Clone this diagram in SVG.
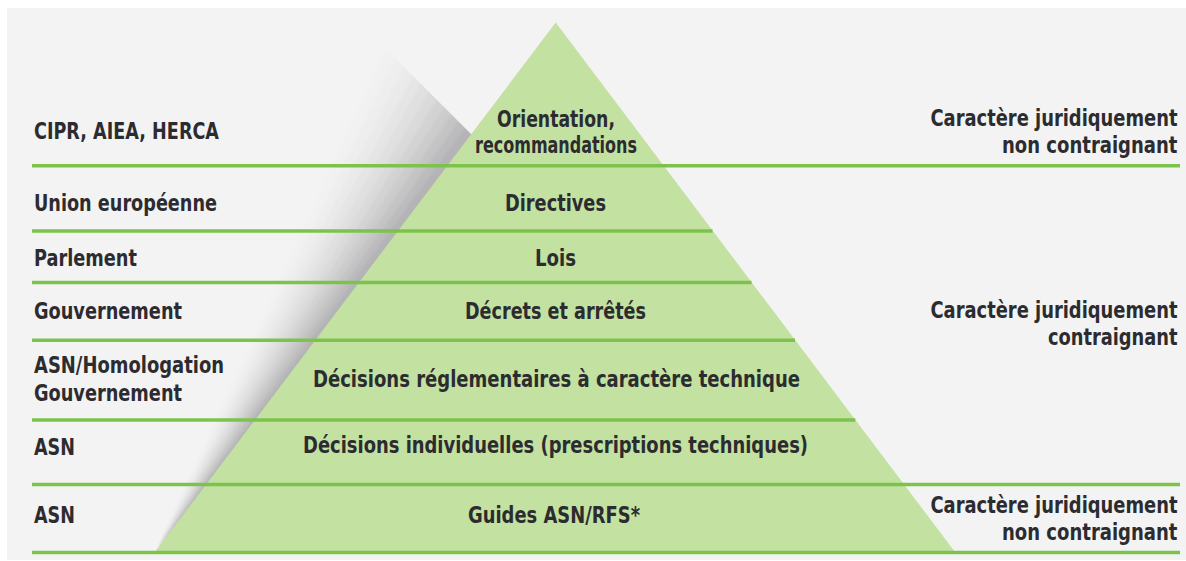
<svg xmlns="http://www.w3.org/2000/svg" width="1186" height="561" viewBox="0 0 1186 561">
<style>
  .t { font-family: "Liberation Sans Narrow", "DejaVu Sans Condensed", "Liberation Sans", sans-serif; font-size: 23px; font-weight: bold; fill: #2c2c30; }
  .c { text-anchor: middle; }
  .r { text-anchor: end; }
  .ln { stroke: #7dc34b; stroke-width: 3.5; fill: none; }
</style>
<defs>
  <clipPath id="shadowClip">
    <polygon points="377,40 155,552 889,552"/>
  </clipPath>
  <filter id="soft" x="-10%" y="-10%" width="120%" height="120%">
    <feGaussianBlur stdDeviation="1.5"/>
  </filter>
</defs>
<rect x="0" y="0" width="1186" height="561" fill="#ffffff"/>
<rect x="7" y="8" width="1179" height="552" fill="#f3f3f3"/>

<g id="shadow" clip-path="url(#shadowClip)">
  <g filter="url(#soft)">
    <polygon points="155,552 370,40 391.3,40" fill="#f3f3f3"/>
    <polygon points="155,552 390.8,40 405.2,40" fill="#f1f1f1"/>
    <polygon points="155,552 404.7,40 419,40" fill="#eeeeee"/>
    <polygon points="155,552 418.5,40 432.8,40" fill="#eaeaea"/>
    <polygon points="155,552 432.3,40 446.6,40" fill="#e5e5e5"/>
    <polygon points="155,552 446.1,40 460.5,40" fill="#e0e0e0"/>
    <polygon points="155,552 460,40 474.3,40" fill="#dadada"/>
    <polygon points="155,552 473.8,40 488.1,40" fill="#d3d3d4"/>
    <polygon points="155,552 487.6,40 501.9,40" fill="#cccccd"/>
    <polygon points="155,552 501.4,40 515.8,40" fill="#c4c4c5"/>
    <polygon points="155,552 515.3,40 529.6,40" fill="#bcbcbe"/>
    <polygon points="155,552 529.1,40 600,40" fill="#b4b4b6"/>
  </g>
</g>

<g id="pyramid">
  <polygon points="555.7,22.5 155,552 955,552" fill="#c3e1a0"/>
</g>

<g id="connectors">
  <line class="ln" x1="32" y1="165.7" x2="1180" y2="165.7"/>
  <line class="ln" x1="32" y1="231" x2="712.5" y2="231"/>
  <line class="ln" x1="32" y1="282.5" x2="751.5" y2="282.5"/>
  <line class="ln" x1="32" y1="340.3" x2="795" y2="340.3"/>
  <line class="ln" x1="32" y1="420" x2="855.3" y2="420"/>
  <line class="ln" x1="32" y1="484.5" x2="1180" y2="484.5"/>
  <line class="ln" x1="32" y1="552.5" x2="1180" y2="552.5"/>
</g>

<g id="row-cipr">
  <text class="t" x="34" y="139.3" textLength="185" lengthAdjust="spacingAndGlyphs">CIPR, AIEA, HERCA</text>
  <text class="t c" x="556" y="126.7" textLength="118" lengthAdjust="spacingAndGlyphs">Orientation,</text>
  <text class="t c" x="556" y="153.3" textLength="162" lengthAdjust="spacingAndGlyphs">recommandations</text>
</g>
<g id="note-top">
  <text class="t r" x="1177.5" y="126" textLength="247" lengthAdjust="spacingAndGlyphs">Caractère juridiquement</text>
  <text class="t r" x="1177.5" y="153.3" textLength="175.5" lengthAdjust="spacingAndGlyphs">non contraignant</text>
</g>
<g id="row-ue">
  <text class="t" x="34" y="210.7" textLength="183" lengthAdjust="spacingAndGlyphs">Union européenne</text>
  <text class="t c" x="555.5" y="210.7" textLength="101" lengthAdjust="spacingAndGlyphs">Directives</text>
</g>
<g id="row-parlement">
  <text class="t" x="34" y="265.7" textLength="103" lengthAdjust="spacingAndGlyphs">Parlement</text>
  <text class="t c" x="555.5" y="265.7" textLength="41" lengthAdjust="spacingAndGlyphs">Lois</text>
</g>
<g id="row-gouvernement">
  <text class="t" x="34" y="319.3" textLength="148" lengthAdjust="spacingAndGlyphs">Gouvernement</text>
  <text class="t c" x="555.5" y="319.3" textLength="181" lengthAdjust="spacingAndGlyphs">Décrets et arrêtés</text>
</g>
<g id="note-mid">
  <text class="t r" x="1177.5" y="318.3" textLength="247" lengthAdjust="spacingAndGlyphs">Caractère juridiquement</text>
  <text class="t r" x="1177.5" y="345" textLength="129.6" lengthAdjust="spacingAndGlyphs">contraignant</text>
</g>
<g id="row-homologation">
  <text class="t" x="34" y="373.3" textLength="190" lengthAdjust="spacingAndGlyphs">ASN/Homologation</text>
  <text class="t" x="34" y="401" textLength="148" lengthAdjust="spacingAndGlyphs">Gouvernement</text>
  <text class="t c" x="556.5" y="387.3" textLength="487" lengthAdjust="spacingAndGlyphs">Décisions réglementaires à caractère technique</text>
</g>
<g id="row-asn1">
  <text class="t" x="34" y="455.3" textLength="41" lengthAdjust="spacingAndGlyphs">ASN</text>
  <text class="t c" x="555.5" y="453.3" textLength="505" lengthAdjust="spacingAndGlyphs">Décisions individuelles (prescriptions techniques)</text>
</g>
<g id="row-asn2">
  <text class="t" x="34" y="523.3" textLength="41" lengthAdjust="spacingAndGlyphs">ASN</text>
  <text class="t c" x="554" y="523.3" textLength="172" lengthAdjust="spacingAndGlyphs">Guides ASN/RFS*</text>
</g>
<g id="note-bottom">
  <text class="t r" x="1177.5" y="513.3" textLength="247" lengthAdjust="spacingAndGlyphs">Caractère juridiquement</text>
  <text class="t r" x="1177.5" y="540" textLength="175.5" lengthAdjust="spacingAndGlyphs">non contraignant</text>
</g>
</svg>
